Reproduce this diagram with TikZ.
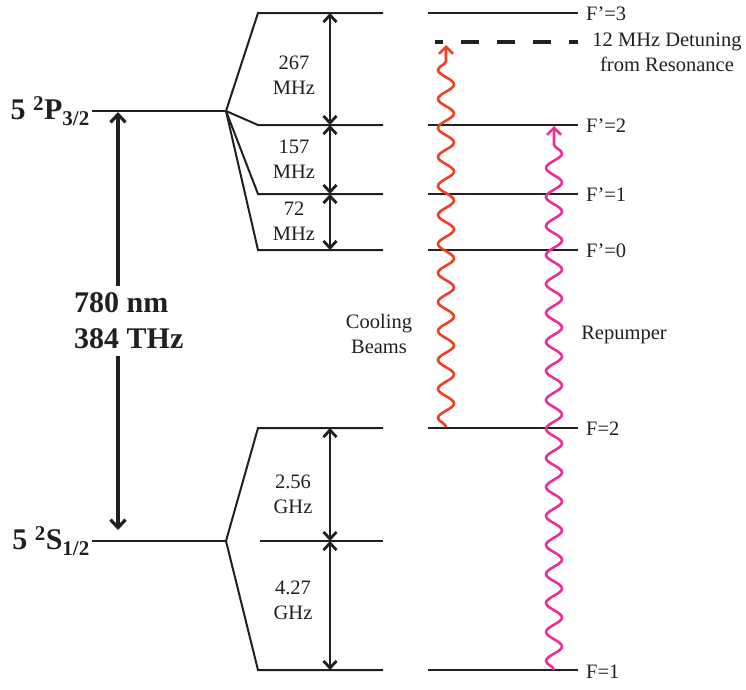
\documentclass[tikz,border=0pt]{standalone}
\usepackage{fontspec}
\setmainfont{Liberation Serif}
\usetikzlibrary{arrows.meta,decorations.pathmorphing}
\definecolor{ink}{RGB}{35,31,32}
\definecolor{coolred}{RGB}{238,64,38}
\definecolor{pumppink}{RGB}{234,48,150}

\begin{document}
\begin{tikzpicture}[x=1pt,y=-1pt,
  beamtip/.tip={Straight Barb[length=7pt,width=14pt]},
  bartip/.tip={Straight Barb[length=7pt,width=13pt]},
  lvl/.style={ink,line width=2pt},
  dbl/.style={ink,line width=2.8pt,bartip-bartip},
  bigarr/.style={ink,line width=3.2pt},
  wave/.style={line width=2.6pt,decorate,decoration={snake,amplitude=8pt,segment length=29pt,post length=4pt}},
  lbl/.style={text=ink,font=\fontsize{20.5}{25}\selectfont,align=center,inner sep=0pt},
  big/.style={text=ink,font=\fontsize{30}{36}\selectfont\bfseries,inner sep=0pt}]
\useasboundingbox (0,0) rectangle (746,689);
% fine structure levels
\coordinate (P) at (92,111);
\coordinate (Pk) at (226,111);
\coordinate (S) at (92,541);
\coordinate (Sk) at (226,541);
\coordinate (gma) at (260,541);
\coordinate (gmb) at (383,541);
\coordinate (gmm) at (330,541);
\foreach \n/\y in {e3/13,e2/125,e1/194,e0/250,g2/428,g1/670} {
  \coordinate (\n a) at (258,\y);
  \coordinate (\n b) at (383,\y);
  \coordinate (\n m) at (330,\y);
  \coordinate (\n c) at (428,\y);
  \coordinate (\n d) at (578,\y);
}
\draw[lvl] (P) -- (Pk);
\draw[lvl] (S) -- (Sk);
\foreach \n in {e3,e2,e1,e0} \draw[lvl] (Pk) -- (\n a) -- (\n b);
\foreach \n in {g2,g1} \draw[lvl] (Sk) -- (\n a) -- (\n b);
\draw[lvl] (gma) -- (gmb);
\foreach \n in {e3,e2,e1,e0,g2,g1} \draw[lvl] (\n c) -- (\n d);
\node[big,anchor=east,inner xsep=2pt] (p32) at (P) {5 \textsuperscript{2}P\textsubscript{3/2}};
\node[big,anchor=east,inner xsep=2pt] (s12) at (S) {5 \textsuperscript{2}S\textsubscript{1/2}};
% optical transition
\coordinate (bt) at (118,112);
\coordinate (bb) at (118,530);
\node[big,anchor=west,align=left,inner ysep=7pt] (wl) at (74,321) {780 nm\\384 THz};
\draw[bigarr,{Straight Barb[length=8pt,width=15pt]}-] (bt) -- (bt |- wl.north);
\draw[bigarr,-{Straight Barb[length=8pt,width=15pt]}] (bt |- wl.south) -- (bb);
% hyperfine splittings
\draw[dbl] (e3m) -- (e2m);
\draw[dbl] (e2m) -- (e1m);
\draw[dbl] (e1m) -- (e0m);
\draw[dbl] (g2m) -- (gmm);
\draw[dbl] (gmm) -- (g1m);
\node[lbl] (d267) at (294,75) {267\\MHz};
\node[lbl] (d157) at (294,159) {157\\MHz};
\node[lbl] (d72) at (294,221) {72\\MHz};
\node[lbl] (d256) at (293,494) {2.56\\GHz};
\node[lbl] (d427) at (293,600) {4.27\\GHz};
% level names
\node[lbl,anchor=west] (f3) at (586,14) {F’=3};
\node[lbl,anchor=west] (f2) at (586,126) {F’=2};
\node[lbl,anchor=west] (f1) at (586,195) {F’=1};
\node[lbl,anchor=west] (f0) at (586,251) {F’=0};
\node[lbl,anchor=west] (fg2) at (586,429) {F=2};
\node[lbl,anchor=west] (fg1) at (586,672) {F=1};
% detuned laser line
\coordinate (dt1) at (435,42);
\coordinate (dt2) at (578,42);
\draw[ink,line width=3.2pt,dash pattern=on 18pt off 18pt,dash phase=10pt] (dt1) -- (dt2);
\node[lbl] (det) at (667,52) {12 MHz Detuning\\from Resonance};
% beams
\coordinate (cb) at (446,427);
\coordinate (ct) at (446,45);
\coordinate (rb) at (554,670);
\coordinate (rt) at (554,126);
\draw[wave,coolred,-beamtip] (cb) -- (ct);
\draw[wave,pumppink,-beamtip] (rb) -- (rt);
\node[lbl] (cool) at (379,334) {Cooling\\Beams};
\node[lbl] (rep) at (624,335) {Repumper};
\end{tikzpicture}
\end{document}
